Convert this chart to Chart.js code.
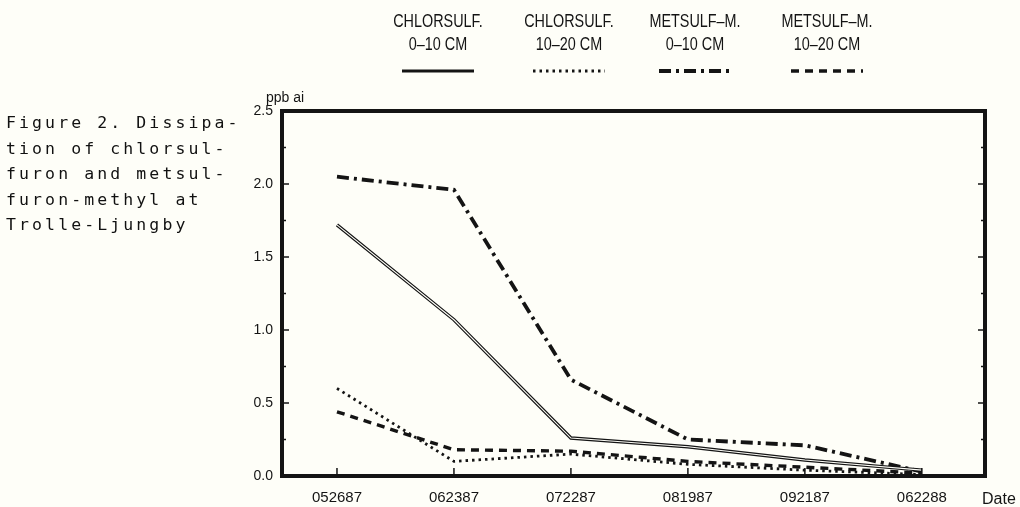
<!DOCTYPE html>
<html>
<head>
<meta charset="utf-8">
<script src="https://cdn.jsdelivr.net/npm/chart.js@4.4.1/dist/chart.umd.min.js"></script>
<style>
  html, body { margin: 0; padding: 0; background: #fefef8; }
  #wrap { position: relative; width: 1020px; height: 507px; }
  #chart { position: absolute; left: 0; top: 0; }
  #caption {
    position: absolute; left: 6px; top: 110px;
    font-family: "DejaVu Sans Mono", "Liberation Mono", monospace;
    font-size: 16.5px; line-height: 25.5px; letter-spacing: 3.1px;
    color: #111; white-space: pre;
  }
</style>
</head>
<body>
<div id="wrap">
  <canvas id="chart" width="1020" height="507"></canvas>
  <div id="caption">Figure 2. Dissipa-
tion of chlorsul-
furon and metsul-
furon-methyl at
Trolle-Ljungby</div>
</div>
<script>
// данные
const dates = ["052687", "062387", "072287", "081987", "092187", "062288"];
const seriesNames = ["CHLORSULF.", "CHLORSULF.", "METSULF–M.", "METSULF–M."];
const seriesDepths = ["0–10 CM", "10–20 CM", "0–10 CM", "10–20 CM"];
const chlorsulf0_10 = [1.72, 1.07, 0.26, 0.20, 0.11, 0.04];
const chlorsulf10_20 = [0.60, 0.10, 0.15, 0.08, 0.04, 0.01];
const metsulf0_10 = [2.05, 1.96, 0.66, 0.25, 0.21, 0.03];
const metsulf10_20 = [0.44, 0.18, 0.17, 0.10, 0.06, 0.02];
const yLabels = ["0.0", "0.5", "1.0", "1.5", "2.0", "2.5"];
const yUnit = "ppb ai";
const xUnit = "Date";

const ink = "#141414";
const paper = "#fefef8";

const toPoints = (arr) => arr.map((v, i) => ({ x: i, y: v }));
const isMajor = (v) => Math.abs(v * 2 - Math.round(v * 2)) < 1e-6;

const decor = {
  id: "decor",
  // двойная линия для хлорсульфурона 0-10
  afterDatasetDraw(chart, args) {
    if (args.index !== 0) return;
    const pts = args.meta.data;
    const ctx = chart.ctx;
    ctx.save();
    ctx.strokeStyle = paper;
    ctx.lineWidth = 1.1;
    ctx.beginPath();
    pts.forEach((p, i) => (i ? ctx.lineTo(p.x, p.y) : ctx.moveTo(p.x, p.y)));
    ctx.stroke();
    ctx.restore();
  },
  afterDraw(chart) {
    const { ctx, chartArea: a, scales: { x, y } } = chart;
    ctx.save();
    ctx.strokeStyle = ink;
    ctx.lineWidth = 4;
    ctx.strokeRect(a.left, a.top, a.right - a.left, a.bottom - a.top);

    ctx.lineWidth = 1.5;
    ctx.beginPath();
    y.ticks.forEach((t) => {
      const py = y.getPixelForValue(t.value);
      const len = isMajor(t.value) ? 7 : 4;
      ctx.moveTo(a.left, py); ctx.lineTo(a.left + len, py);
      ctx.moveTo(a.right, py); ctx.lineTo(a.right - len, py);
    });
    x.ticks.forEach((t) => {
      const px = x.getPixelForValue(t.value);
      ctx.moveTo(px, a.bottom); ctx.lineTo(px, a.bottom - 8);
    });
    ctx.stroke();

    ctx.fillStyle = ink;
    ctx.textBaseline = "alphabetic";
    ctx.textAlign = "left";
    ctx.font = "14px 'Liberation Sans', Arial, sans-serif";
    ctx.fillText(yUnit, a.left - 16, a.top - 9);
    ctx.font = "16px 'Liberation Sans', Arial, sans-serif";
    ctx.fillText(xUnit, a.right - 3, 504);

    // легенда сверху
    const legendX = [438, 569, 695, 827];
    chart.data.datasets.forEach((ds, i) => {
      const cx = legendX[i];
      ctx.save();
      ctx.translate(cx, 0);
      ctx.scale(0.8, 1);
      ctx.font = "18px 'Liberation Sans', Arial, sans-serif";
      ctx.textAlign = "center";
      ctx.fillStyle = ink;
      ctx.fillText(seriesNames[i], 0, 26.5);
      ctx.fillText(seriesDepths[i], 0, 50);
      ctx.restore();

      ctx.save();
      ctx.strokeStyle = ink;
      ctx.lineWidth = i === 0 ? 3 : ds.borderWidth;
      ctx.setLineDash(ds.borderDash || []);
      ctx.beginPath();
      ctx.moveTo(cx - 36, 71);
      ctx.lineTo(cx + 36, 71);
      ctx.stroke();
      ctx.restore();
    });
    ctx.restore();
  }
};

new Chart(document.getElementById("chart"), {
  type: "line",
  data: {
    datasets: [
      { label: seriesNames[0] + " " + seriesDepths[0], data: toPoints(chlorsulf0_10),
        borderColor: ink, borderWidth: 3.4, borderDash: [] },
      { label: seriesNames[1] + " " + seriesDepths[1], data: toPoints(chlorsulf10_20),
        borderColor: ink, borderWidth: 2.8, borderDash: [2.5, 4] },
      { label: seriesNames[2] + " " + seriesDepths[2], data: toPoints(metsulf0_10),
        borderColor: ink, borderWidth: 3.8, borderDash: [12, 5, 3, 5] },
      { label: seriesNames[3] + " " + seriesDepths[3], data: toPoints(metsulf10_20),
        borderColor: ink, borderWidth: 3.4, borderDash: [8, 6] }
    ]
  },
  options: {
    responsive: false,
    animation: false,
    elements: { point: { radius: 0 }, line: { tension: 0, borderCapStyle: "butt" } },
    layout: { padding: { left: 242, top: 111, right: 35, bottom: 5 } },
    plugins: { legend: { display: false }, tooltip: { enabled: false } },
    scales: {
      x: {
        type: "linear",
        min: -0.47,
        max: 5.54,
        afterBuildTicks: (scale) => { scale.ticks = dates.map((d, i) => ({ value: i })); },
        afterFit: (scale) => { scale.height = 26; },
        grid: { display: false, drawTicks: false },
        border: { display: false },
        ticks: {
          autoSkip: false, maxRotation: 0, padding: 13, color: ink,
          font: { family: "'Liberation Sans', Arial, sans-serif", size: 15 },
          callback: (v) => dates[v]
        }
      },
      y: {
        min: 0,
        max: 2.5,
        afterFit: (scale) => { scale.width = 40; },
        grid: { display: false, drawTicks: false },
        border: { display: false },
        ticks: {
          stepSize: 0.25, padding: 9, color: ink,
          font: { family: "'Liberation Sans', Arial, sans-serif", size: 14 },
          callback: (v) => (isMajor(v) ? yLabels[Math.round(v * 2)] : "")
        }
      }
    }
  },
  plugins: [decor]
});
</script>
</body>
</html>
